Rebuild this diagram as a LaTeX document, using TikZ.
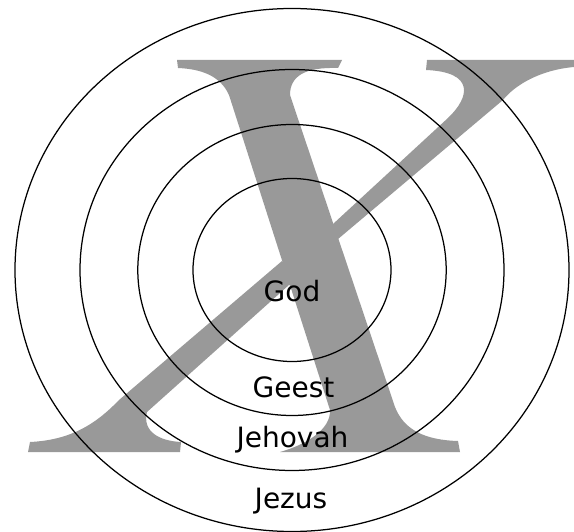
\documentclass[tikz,border=0pt]{standalone}
\usepackage{fontspec}
\setsansfont{DejaVu Sans}
\definecolor{xgray}{RGB}{153,153,153}
\begin{document}
\begin{tikzpicture}[x=1pt,y=-1pt,
  ring/.style={draw=black,line width=1.25pt},
  xpart/.style={fill=xgray},
  lbl/.style={font=\sffamily\fontsize{28}{30}\selectfont,anchor=base,inner sep=0pt,text=black}]
\useasboundingbox (0,0) rectangle (574,532);
\fill[white] (0,0) rectangle (574,532);
% big italic X: thick stroke
\fill[xpart] (177,60) -- (342,60) -- (338,68)
  .. controls (305,67) and (290,76) .. (290,95)
  -- (395,407) .. controls (404,430) and (425,440) .. (458,441)
  -- (460,452) -- (280,452)
  .. controls (305,445) and (331,430) .. (330,410)
  -- (229,95) .. controls (220,75) and (200,69) .. (178,68) -- cycle;
% thin stroke, upper right piece
\fill[xpart] (427,60) -- (574,60) -- (574,67)
  .. controls (540,70) and (515,85) .. (503,100)
  -- (325,250) -- (333,224) -- (448,118)
  .. controls (470,97) and (475,72) .. (426,70) -- cycle;
% thin stroke, lower left piece
\fill[xpart] (300,290) -- (282,261) -- (119,400)
  .. controls (95,425) and (70,440) .. (30,442)
  -- (28,452) -- (180,452) -- (181,442)
  .. controls (160,441) and (142,432) .. (147,412)
  -- (289,285) -- cycle;
% rings
\draw[ring] (292,270) ellipse [x radius=277, y radius=261.5];
\draw[ring] (292,270) ellipse [x radius=212, y radius=200.5];
\draw[ring] (292,270) ellipse [x radius=154.2, y radius=145.5];
\draw[ring] (292,270) ellipse [x radius=99, y radius=91.5];
% labels
\node[lbl] (god) at (292,302) {God};
\node[lbl] (geest) at (293.5,398) {Geest};
\node[lbl] (jehovah) at (292.5,447) {Jehovah};
\node[lbl] (jezus) at (291,508) {Jezus};
\end{tikzpicture}
\end{document}
